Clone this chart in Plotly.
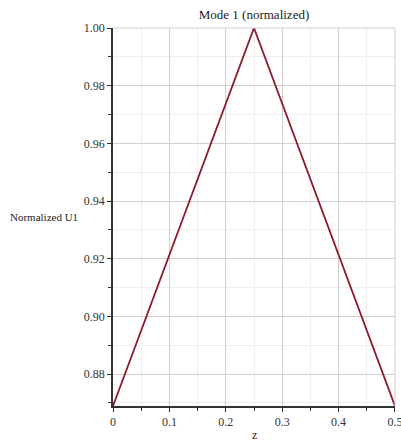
import plotly.graph_objects as go

z_vals = [0.0, 0.25, 0.5]
u1_vals = [0.8689, 1.0, 0.8689]
x_ticks = [0, 0.1, 0.2, 0.3, 0.4, 0.5]
x_tick_labels = ["0", "0.1", "0.2", "0.3", "0.4", "0.5"]
y_ticks = [0.88, 0.90, 0.92, 0.94, 0.96, 0.98, 1.00]
y_tick_labels = ["0.88", "0.90", "0.92", "0.94", "0.96", "0.98", "1.00"]

font_family = "'Times New Roman', 'Liberation Serif', serif"

fig = go.Figure()
fig.add_trace(go.Scatter(x=z_vals, y=u1_vals, mode="lines",
                         line=dict(color="#8b1a2b", width=1.8), showlegend=False))

fig.update_layout(
    width=401, height=443,
    margin=dict(l=113, r=6, t=28, b=37, autoexpand=False),
    paper_bgcolor="white", plot_bgcolor="white",
    font=dict(family=font_family, size=12, color="#333333"),
    title=dict(text="Mode 1 (normalized)", x=(113 + 395) / 2 / 401, xanchor="center",
               y=1 - 14 / 443, yanchor="middle",
               font=dict(family=font_family, size=13, color="#222222")),
    xaxis=dict(range=[0, 0.50001], tickvals=x_ticks, ticktext=x_tick_labels,
               showgrid=True, gridcolor="#d0d0d0", gridwidth=1,
               showline=True, linecolor="#333333", linewidth=1.5,
               ticks="outside", ticklen=4, tickcolor="#333333",
               zeroline=False, mirror=False, ticklabeloverflow="allow",
               automargin=False,
               minor=dict(dtick=0.05, tick0=0, showgrid=True, gridcolor="#eeeeee",
                          ticks="outside", ticklen=3, tickcolor="#333333"),
               tickfont=dict(family=font_family, size=12, color="#333333")),
    yaxis=dict(range=[0.8689, 1.00001], tickvals=y_ticks, ticktext=y_tick_labels,
               showgrid=True, gridcolor="#d0d0d0", gridwidth=1,
               showline=True, linecolor="#333333", linewidth=1.5,
               ticks="outside", ticklen=4, tickcolor="#333333",
               zeroline=False, mirror=False, ticklabeloverflow="allow",
               automargin=False,
               minor=dict(dtick=0.01, tick0=0.88, showgrid=True, gridcolor="#eeeeee",
                          ticks="outside", ticklen=3, tickcolor="#333333"),
               tickfont=dict(family=font_family, size=12, color="#333333")),
    annotations=[
        dict(text="Normalized U1", xref="paper", yref="paper", x=-105 / 282,
             xanchor="left", y=0.5, yanchor="middle", showarrow=False,
             font=dict(family=font_family, size=11, color="#222222")),
        dict(text="z", xref="paper", yref="paper", x=0.5, y=-29 / 378,
             xanchor="center", yanchor="middle", showarrow=False,
             font=dict(family=font_family, size=12, color="#222222")),
    ],
)

fig.add_shape(type="line", xref="paper", yref="paper", x0=0, x1=1, y0=1, y1=1,
              line=dict(color="#d0d0d0", width=1))
fig.add_shape(type="line", xref="paper", yref="paper", x0=1, x1=1, y0=0, y1=1,
              line=dict(color="#d0d0d0", width=1))

fig.write_html("out.html")
